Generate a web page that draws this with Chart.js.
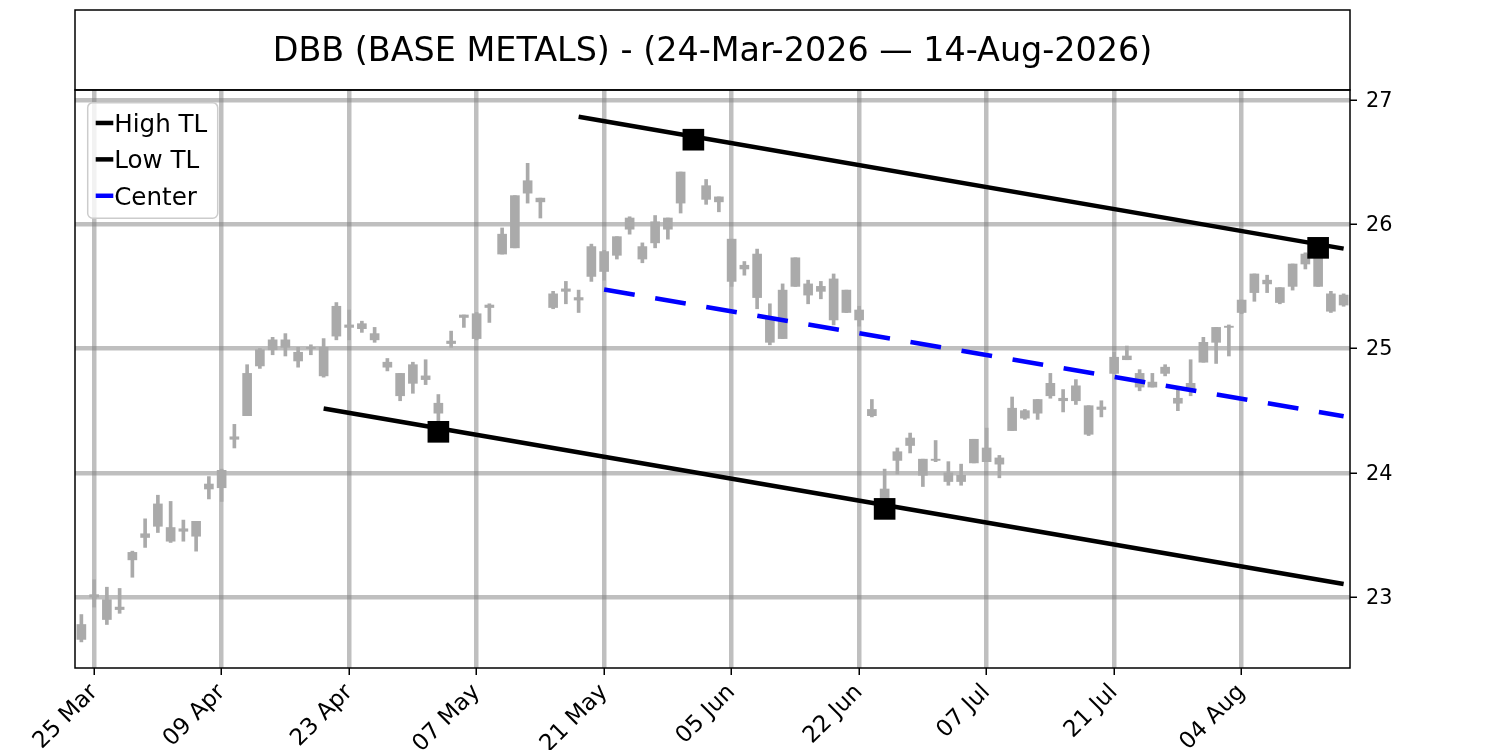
<!DOCTYPE html>
<html lang="en">
<head>
	<meta charset="UTF-8">
	<title>DBB (BASE METALS)</title>
	<script src="https://cdn.jsdelivr.net/npm/chart.js@4.4.1/dist/chart.umd.min.js"></script>
	<style>
		html, body { margin: 0; padding: 0; background: #fff; }
		#wrap { width: 1500px; height: 750px; }
	</style>
</head>
<body>
	<div id="wrap"><canvas id="grafico"></canvas></div>
	<script>
		const titulo = 'DBB (BASE METALS) - (24-Mar-2026 \u2014 14-Aug-2026)';

		// x is the trading-day index (0 = 24 Mar 2026)
		const tickPos = [1, 11, 21, 31, 41, 51, 61, 71, 81, 91];
		const tickLabels = ['25 Mar', '09 Apr', '23 Apr', '07 May', '21 May', '05 Jun', '22 Jun', '07 Jul', '21 Jul', '04 Aug'];
		const yTicks = [23, 24, 25, 26, 27];

		const opens = [
			22.66, 23.00, 22.98, 22.90, 23.30, 23.48, 23.57, 23.56, 23.53, 23.49,
			23.87, 23.88, 24.27, 24.46, 24.86, 24.99, 25.07, 24.97, 25.00, 25.01,
			25.10, 25.19, 25.16, 25.12, 24.89, 24.80, 24.72, 24.78, 24.56, 25.04,
			25.25, 25.28, 25.33, 25.76, 25.81, 26.25, 26.21, 25.44, 25.46, 25.41,
			25.58, 25.78, 25.75, 25.96, 25.82, 25.85, 25.96, 26.17, 26.62, 26.31,
			26.22, 25.88, 25.64, 25.76, 25.25, 25.08, 25.50, 25.52, 25.46, 25.56,
			25.29, 25.31, 24.51, 23.87, 24.10, 24.22, 24.11, 24.10, 24.00, 23.93,
			24.08, 24.20, 24.07, 24.34, 24.50, 24.48, 24.62, 24.60, 24.58, 24.54,
			24.51, 24.80, 24.91, 24.80, 24.69, 24.80, 24.60, 24.66, 24.89, 25.05,
			25.17, 25.29, 25.45, 25.55, 25.49, 25.50, 25.68, 25.76, 25.44, 25.35
		];
		const highs = [
			22.86, 23.14, 23.08, 23.07, 23.37, 23.63, 23.82, 23.77, 23.62, 23.61,
			23.97, 24.03, 24.39, 24.87, 25.00, 25.09, 25.12, 25.01, 25.03, 25.08,
			25.37, 25.31, 25.22, 25.17, 24.92, 24.80, 24.89, 24.91, 24.63, 25.14,
			25.27, 25.29, 25.36, 25.97, 26.23, 26.49, 26.21, 25.46, 25.54, 25.47,
			25.84, 25.79, 25.90, 26.06, 25.85, 26.07, 26.05, 26.42, 26.68, 26.36,
			26.22, 25.88, 25.70, 25.80, 25.36, 25.52, 25.73, 25.55, 25.54, 25.60,
			25.47, 25.34, 24.59, 24.03, 24.20, 24.32, 24.11, 24.26, 24.09, 24.07,
			24.27, 24.36, 24.14, 24.61, 24.51, 24.59, 24.80, 24.67, 24.75, 24.54,
			24.58, 24.97, 25.02, 24.83, 24.80, 24.87, 24.67, 24.91, 25.09, 25.17,
			25.19, 25.39, 25.60, 25.59, 25.49, 25.68, 25.77, 25.81, 25.46, 25.44
		];
		const lows = [
			22.64, 22.92, 22.78, 22.87, 23.16, 23.40, 23.52, 23.44, 23.45, 23.37,
			23.79, 23.77, 24.20, 24.46, 24.84, 24.95, 24.94, 24.85, 24.95, 24.77,
			25.07, 25.07, 25.13, 25.05, 24.82, 24.58, 24.64, 24.71, 24.40, 25.01,
			25.17, 25.07, 25.21, 25.76, 25.81, 26.17, 26.05, 25.32, 25.36, 25.29,
			25.54, 25.55, 25.72, 25.92, 25.69, 25.81, 25.88, 26.09, 26.60, 26.16,
			26.10, 25.50, 25.59, 25.32, 25.03, 25.08, 25.50, 25.36, 25.40, 25.19,
			25.29, 25.18, 24.45, 23.71, 23.99, 24.16, 23.89, 24.09, 23.90, 23.90,
			24.08, 24.09, 23.96, 24.34, 24.43, 24.43, 24.60, 24.49, 24.55, 24.30,
			24.45, 24.80, 24.91, 24.66, 24.69, 24.78, 24.50, 24.62, 24.89, 24.88,
			24.94, 25.28, 25.38, 25.45, 25.36, 25.47, 25.64, 25.50, 25.29, 25.34
		];
		const closes = [
			22.78, 23.02, 22.82, 22.92, 23.36, 23.51, 23.75, 23.45, 23.55, 23.61,
			23.91, 24.02, 24.29, 24.80, 24.99, 25.07, 25.01, 24.90, 25.01, 24.78,
			25.34, 25.17, 25.20, 25.07, 24.85, 24.62, 24.87, 24.75, 24.48, 25.06,
			25.27, 25.08, 25.35, 25.92, 26.23, 26.35, 26.18, 25.33, 25.48, 25.39,
			25.82, 25.62, 25.90, 26.05, 25.72, 26.02, 26.05, 26.42, 26.65, 26.20,
			26.18, 25.54, 25.67, 25.41, 25.05, 25.47, 25.73, 25.43, 25.50, 25.23,
			25.47, 25.23, 24.46, 23.78, 24.17, 24.28, 23.98, 24.11, 23.93, 23.98,
			24.27, 24.09, 24.12, 24.52, 24.44, 24.59, 24.72, 24.58, 24.70, 24.31,
			24.53, 24.93, 24.94, 24.69, 24.73, 24.85, 24.56, 24.72, 25.05, 25.17,
			25.18, 25.39, 25.60, 25.52, 25.37, 25.68, 25.76, 25.50, 25.30, 25.43
		];

		// trend channel and its pivot points
		const highTLIdx = [39, 99];
		const highTLVal = [26.865, 25.804];
		const lowTLIdx = [19, 99];
		const lowTLVal = [24.518, 23.106];
		const centerIdx = [41, 99];
		const centerVal = [25.475, 24.455];
		const pivotHighIdx = [48, 97];
		const pivotHighVal = [26.68, 25.81];
		const pivotLowIdx = [28, 63];
		const pivotLowVal = [24.33, 23.71];

		const fonte = 'DejaVu Sans';
		const corGrade = 'rgba(128, 128, 128, 0.5)';
		const corVela = '#aaaaaa';

		const pontos = (idx, val) => idx.map((x, i) => ({ x: x, y: val[i] }));

		// black frames around the plot and the title
		const molduras = {
			id: 'molduras',
			afterDraw(chart) {
				const { ctx, chartArea: a, titleBlock: t } = chart;
				ctx.save();
				ctx.strokeStyle = '#000';
				ctx.lineWidth = 1.5;
				ctx.strokeRect(a.left, a.top, a.right - a.left, a.bottom - a.top);
				ctx.strokeRect(a.left, t.top, a.right - a.left, t.bottom - t.top);
				ctx.restore();
			}
		};

		// matplotlib-like legend in the upper left corner
		const legenda = {
			id: 'legenda',
			afterDraw(chart) {
				const { ctx, chartArea: a } = chart;
				const itens = chart.data.datasets.filter(d => d.naLegenda);
				const tam = 24.6;
				const x0 = a.left + 12.7, y0 = a.top + 12.7;
				ctx.save();
				ctx.beginPath();
				ctx.roundRect(x0, y0, 130, 115.6, 5);
				ctx.fillStyle = 'rgba(255, 255, 255, 0.8)';
				ctx.fill();
				ctx.strokeStyle = '#cccccc';
				ctx.lineWidth = 1.5;
				ctx.stroke();
				ctx.font = tam + 'px "' + fonte + '"';
				ctx.textBaseline = 'alphabetic';
				ctx.textAlign = 'left';
				itens.forEach((d, i) => {
					const y = y0 + 20.3 + i * 36.4;
					ctx.beginPath();
					ctx.strokeStyle = d.borderColor;
					ctx.lineWidth = 4.5;
					ctx.moveTo(x0 + 8, y);
					ctx.lineTo(x0 + 25.6, y);
					ctx.stroke();
					ctx.fillStyle = '#000';
					ctx.fillText(d.label, x0 + 26.5, y + tam * 0.729 / 2);
				});
				ctx.restore();
			}
		};

		new Chart(document.querySelector('#grafico'), {
			type: 'bar',
			data: {
				datasets: [
					{
						type: 'line', label: 'Pivot High', data: pontos(pivotHighIdx, pivotHighVal),
						showLine: false, pointStyle: 'rect', pointRadius: 15.3,
						pointBackgroundColor: '#000', pointBorderWidth: 0, order: 0
					},
					{
						type: 'line', label: 'Pivot Low', data: pontos(pivotLowIdx, pivotLowVal),
						showLine: false, pointStyle: 'rect', pointRadius: 15.3,
						pointBackgroundColor: '#000', pointBorderWidth: 0, order: 0
					},
					{
						type: 'line', label: 'High TL', data: pontos(highTLIdx, highTLVal),
						borderColor: '#000000', borderWidth: 4.5, pointRadius: 0, order: 1, naLegenda: true
					},
					{
						type: 'line', label: 'Low TL', data: pontos(lowTLIdx, lowTLVal),
						borderColor: '#000000', borderWidth: 4.5, pointRadius: 0, order: 1, naLegenda: true
					},
					{
						type: 'line', label: 'Center', data: pontos(centerIdx, centerVal),
						borderColor: '#0000ff', borderWidth: 4.5, borderDash: [31, 20.8], borderCapStyle: 'butt',
						pointRadius: 0, order: 1, naLegenda: true
					},
					{
						type: 'bar', label: 'Body',
						data: closes.map((c, i) => ({ x: i, y: [Math.min(opens[i], c), Math.max(opens[i], c)] })),
						backgroundColor: corVela, borderWidth: 0, barThickness: 9, grouped: false, order: 2
					},
					{
						type: 'bar', label: 'Wick',
						data: highs.map((h, i) => ({ x: i, y: [lows[i], h] })),
						backgroundColor: corVela, borderWidth: 0, barThickness: 3, grouped: false, order: 3
					}
				]
			},
			options: {
				responsive: true,
				maintainAspectRatio: false,
				animation: false,
				layout: { padding: { left: 75, top: 10, right: 0, bottom: 0 } },
				plugins: {
					legend: { display: false },
					tooltip: { enabled: false },
					title: {
						display: true,
						text: titulo,
						fullSize: false,
						color: '#000',
						font: { family: fonte, size: 33.4, weight: 'normal', lineHeight: 1.2 },
						padding: { top: 22, bottom: 17.9 }
					}
				},
				scales: {
					x: {
						type: 'linear',
						min: -0.5,
						max: 99.5,
						offset: false,
						afterBuildTicks: s => { s.ticks = tickPos.map(v => ({ value: v })); },
						afterFit: s => { s.height = 82; },
						grid: { offset: false, color: corGrade, lineWidth: 4.5, tickColor: '#000', tickWidth: 1.5, tickLength: 7 },
						border: { display: false },
						ticks: {
							autoSkip: false,
							minRotation: 45,
							maxRotation: 45,
							padding: 4,
							color: '#000',
							font: { family: fonte, size: 23 },
							callback: v => tickLabels[tickPos.indexOf(v)]
						}
					},
					y: {
						type: 'linear',
						position: 'right',
						min: 22.43,
						max: 27.08,
						afterBuildTicks: s => { s.ticks = yTicks.map(v => ({ value: v })); },
						afterFit: s => { s.width = 150; },
						grid: { color: corGrade, lineWidth: 4.5, tickColor: '#000', tickWidth: 1.5, tickLength: 7 },
						border: { display: false },
						ticks: {
							padding: 9,
							labelOffset: 1.5,
							color: '#000',
							font: { family: fonte, size: 20.8 },
							callback: v => String(v)
						}
					}
				}
			},
			plugins: [molduras, legenda]
		});
	</script>
</body>
</html>
